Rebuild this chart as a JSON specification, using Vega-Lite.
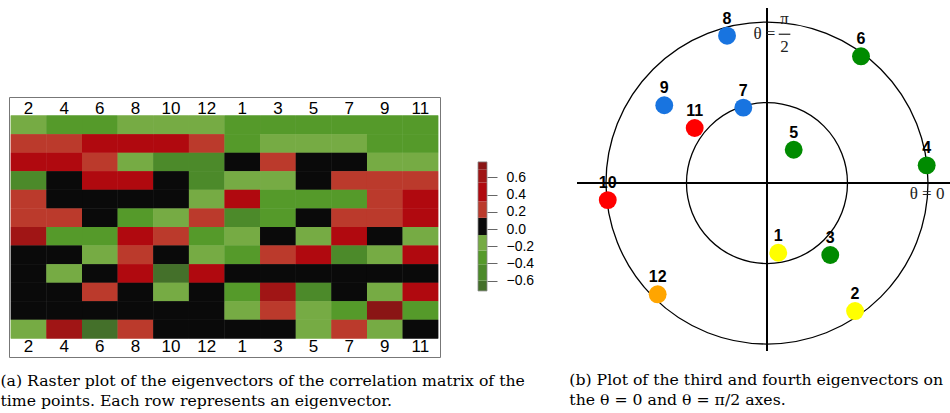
{
  "$schema": "https://vega.github.io/schema/vega-lite/v6.json",
  "padding": {"left": 0, "top": 7, "right": 0, "bottom": 0},
  "background": "white",
  "config": {
    "view": {"stroke": null},
    "font": "Liberation Sans",
    "axis": {"labelFont": "Liberation Sans", "labelColor": "black"}
  },
  "datasets": {
    "cells": [
      {"row": 1, "col": "2", "value": -0.16}, {"row": 1, "col": "4", "value": -0.33}, {"row": 1, "col": "6", "value": -0.33}, {"row": 1, "col": "8", "value": -0.16}, {"row": 1, "col": "10", "value": -0.16}, {"row": 1, "col": "12", "value": -0.16}, {"row": 1, "col": "1", "value": -0.33}, {"row": 1, "col": "3", "value": -0.33}, {"row": 1, "col": "5", "value": -0.33}, {"row": 1, "col": "7", "value": -0.33}, {"row": 1, "col": "9", "value": -0.33}, {"row": 1, "col": "11", "value": -0.33},
      {"row": 2, "col": "2", "value": 0.22}, {"row": 2, "col": "4", "value": 0.22}, {"row": 2, "col": "6", "value": 0.43}, {"row": 2, "col": "8", "value": 0.43}, {"row": 2, "col": "10", "value": 0.43}, {"row": 2, "col": "12", "value": 0.22}, {"row": 2, "col": "1", "value": -0.33}, {"row": 2, "col": "3", "value": -0.16}, {"row": 2, "col": "5", "value": -0.16}, {"row": 2, "col": "7", "value": -0.16}, {"row": 2, "col": "9", "value": -0.33}, {"row": 2, "col": "11", "value": -0.33},
      {"row": 3, "col": "2", "value": 0.43}, {"row": 3, "col": "4", "value": 0.43}, {"row": 3, "col": "6", "value": 0.22}, {"row": 3, "col": "8", "value": -0.16}, {"row": 3, "col": "10", "value": -0.5}, {"row": 3, "col": "12", "value": -0.5}, {"row": 3, "col": "1", "value": 0.03}, {"row": 3, "col": "3", "value": 0.22}, {"row": 3, "col": "5", "value": 0.03}, {"row": 3, "col": "7", "value": 0.03}, {"row": 3, "col": "9", "value": -0.16}, {"row": 3, "col": "11", "value": -0.16},
      {"row": 4, "col": "2", "value": -0.5}, {"row": 4, "col": "4", "value": 0.03}, {"row": 4, "col": "6", "value": 0.43}, {"row": 4, "col": "8", "value": 0.43}, {"row": 4, "col": "10", "value": 0.03}, {"row": 4, "col": "12", "value": -0.5}, {"row": 4, "col": "1", "value": -0.16}, {"row": 4, "col": "3", "value": -0.16}, {"row": 4, "col": "5", "value": 0.03}, {"row": 4, "col": "7", "value": 0.22}, {"row": 4, "col": "9", "value": 0.22}, {"row": 4, "col": "11", "value": 0.22},
      {"row": 5, "col": "2", "value": 0.22}, {"row": 5, "col": "4", "value": 0.03}, {"row": 5, "col": "6", "value": 0.03}, {"row": 5, "col": "8", "value": 0.03}, {"row": 5, "col": "10", "value": 0.03}, {"row": 5, "col": "12", "value": -0.16}, {"row": 5, "col": "1", "value": 0.43}, {"row": 5, "col": "3", "value": -0.33}, {"row": 5, "col": "5", "value": -0.33}, {"row": 5, "col": "7", "value": -0.33}, {"row": 5, "col": "9", "value": 0.22}, {"row": 5, "col": "11", "value": 0.43},
      {"row": 6, "col": "2", "value": 0.22}, {"row": 6, "col": "4", "value": 0.22}, {"row": 6, "col": "6", "value": 0.03}, {"row": 6, "col": "8", "value": -0.33}, {"row": 6, "col": "10", "value": -0.16}, {"row": 6, "col": "12", "value": 0.22}, {"row": 6, "col": "1", "value": -0.5}, {"row": 6, "col": "3", "value": -0.33}, {"row": 6, "col": "5", "value": 0.03}, {"row": 6, "col": "7", "value": 0.22}, {"row": 6, "col": "9", "value": 0.22}, {"row": 6, "col": "11", "value": 0.43},
      {"row": 7, "col": "2", "value": 0.6}, {"row": 7, "col": "4", "value": -0.33}, {"row": 7, "col": "6", "value": -0.33}, {"row": 7, "col": "8", "value": 0.43}, {"row": 7, "col": "10", "value": 0.22}, {"row": 7, "col": "12", "value": -0.33}, {"row": 7, "col": "1", "value": -0.16}, {"row": 7, "col": "3", "value": 0.03}, {"row": 7, "col": "5", "value": -0.16}, {"row": 7, "col": "7", "value": 0.43}, {"row": 7, "col": "9", "value": 0.03}, {"row": 7, "col": "11", "value": -0.16},
      {"row": 8, "col": "2", "value": 0.03}, {"row": 8, "col": "4", "value": 0.03}, {"row": 8, "col": "6", "value": -0.16}, {"row": 8, "col": "8", "value": 0.22}, {"row": 8, "col": "10", "value": 0.03}, {"row": 8, "col": "12", "value": -0.16}, {"row": 8, "col": "1", "value": -0.33}, {"row": 8, "col": "3", "value": 0.22}, {"row": 8, "col": "5", "value": 0.43}, {"row": 8, "col": "7", "value": -0.5}, {"row": 8, "col": "9", "value": -0.16}, {"row": 8, "col": "11", "value": 0.43},
      {"row": 9, "col": "2", "value": 0.03}, {"row": 9, "col": "4", "value": -0.16}, {"row": 9, "col": "6", "value": 0.03}, {"row": 9, "col": "8", "value": 0.43}, {"row": 9, "col": "10", "value": -0.65}, {"row": 9, "col": "12", "value": 0.43}, {"row": 9, "col": "1", "value": 0.03}, {"row": 9, "col": "3", "value": 0.03}, {"row": 9, "col": "5", "value": 0.03}, {"row": 9, "col": "7", "value": 0.03}, {"row": 9, "col": "9", "value": 0.03}, {"row": 9, "col": "11", "value": 0.03},
      {"row": 10, "col": "2", "value": 0.03}, {"row": 10, "col": "4", "value": 0.03}, {"row": 10, "col": "6", "value": 0.22}, {"row": 10, "col": "8", "value": 0.03}, {"row": 10, "col": "10", "value": -0.16}, {"row": 10, "col": "12", "value": 0.03}, {"row": 10, "col": "1", "value": -0.33}, {"row": 10, "col": "3", "value": 0.6}, {"row": 10, "col": "5", "value": -0.5}, {"row": 10, "col": "7", "value": 0.03}, {"row": 10, "col": "9", "value": -0.16}, {"row": 10, "col": "11", "value": 0.43},
      {"row": 11, "col": "2", "value": 0.03}, {"row": 11, "col": "4", "value": 0.03}, {"row": 11, "col": "6", "value": 0.03}, {"row": 11, "col": "8", "value": 0.03}, {"row": 11, "col": "10", "value": 0.03}, {"row": 11, "col": "12", "value": 0.03}, {"row": 11, "col": "1", "value": -0.16}, {"row": 11, "col": "3", "value": 0.22}, {"row": 11, "col": "5", "value": -0.16}, {"row": 11, "col": "7", "value": -0.33}, {"row": 11, "col": "9", "value": 0.72}, {"row": 11, "col": "11", "value": -0.33},
      {"row": 12, "col": "2", "value": -0.16}, {"row": 12, "col": "4", "value": 0.6}, {"row": 12, "col": "6", "value": -0.65}, {"row": 12, "col": "8", "value": 0.22}, {"row": 12, "col": "10", "value": 0.03}, {"row": 12, "col": "12", "value": 0.03}, {"row": 12, "col": "1", "value": 0.03}, {"row": 12, "col": "3", "value": 0.03}, {"row": 12, "col": "5", "value": -0.16}, {"row": 12, "col": "7", "value": 0.22}, {"row": 12, "col": "9", "value": -0.16}, {"row": 12, "col": "11", "value": 0.03}
    ],
    "legendBins": [
      {"lo": -0.72, "hi": -0.6}, {"lo": -0.6, "hi": -0.41}, {"lo": -0.41, "hi": -0.25},
      {"lo": -0.25, "hi": -0.07}, {"lo": -0.07, "hi": 0.13}, {"lo": 0.13, "hi": 0.32},
      {"lo": 0.32, "hi": 0.54}, {"lo": 0.54, "hi": 0.69}, {"lo": 0.69, "hi": 0.78}
    ],
    "points": [
      {"label": "1", "x": 0.07, "y": -0.433, "cluster": "A"},
      {"label": "2", "x": 0.547, "y": -0.795, "cluster": "A"},
      {"label": "3", "x": 0.393, "y": -0.447, "cluster": "B"},
      {"label": "4", "x": 0.992, "y": 0.11, "cluster": "B"},
      {"label": "5", "x": 0.166, "y": 0.207, "cluster": "B"},
      {"label": "6", "x": 0.584, "y": 0.787, "cluster": "B"},
      {"label": "7", "x": -0.147, "y": 0.468, "cluster": "C"},
      {"label": "8", "x": -0.248, "y": 0.915, "cluster": "C"},
      {"label": "9", "x": -0.638, "y": 0.483, "cluster": "C"},
      {"label": "10", "x": -0.989, "y": -0.106, "cluster": "D"},
      {"label": "11", "x": -0.449, "y": 0.342, "cluster": "D"},
      {"label": "12", "x": -0.679, "y": -0.691, "cluster": "E"}
    ],
    "rings": [{"ring": "outer", "r": 1}, {"ring": "inner", "r": 0.5}],
    "thetaText": [
      {"t": "θ =", "x": -0.016, "y": 0.924},
      {"t": "π", "x": 0.109, "y": 1.016},
      {"t": "2", "x": 0.109, "y": 0.847},
      {"t": "θ = 0", "x": 0.994, "y": -0.068}
    ],
    "fracBar": [{"x": 0.073, "x2": 0.145, "y": 0.924}],
    "empty": []
  },
  "spacing": 35,
  "hconcat": [
    {
      "title": {
        "text": ["(a) Raster plot of the eigenvectors of the correlation matrix of the", "time points. Each row represents an eigenvector."],
        "orient": "bottom", "anchor": "start", "dx": -8, "offset": 16,
        "font": "DejaVu Serif", "fontSize": 15.7, "fontWeight": "normal",
        "lineHeight": 20.6, "color": "black"
      },
      "spacing": 0,
      "vconcat": [
        {
          "width": 431,
          "height": 88,
          "data": {"name": "empty"},
          "mark": "point"
        },
        {
          "spacing": 36,
          "hconcat": [
            {
              "width": 431,
              "height": 260,
              "view": {"stroke": "#777", "strokeWidth": 1},
              "data": {"name": "cells"},
              "layer": [
                {
                  "mark": {"type": "rect", "strokeWidth": 0},
                  "encoding": {
                    "x": {
                      "field": "col", "type": "ordinal",
                      "sort": ["2", "4", "6", "8", "10", "12", "1", "3", "5", "7", "9", "11"],
                      "scale": {"paddingInner": 0, "paddingOuter": 0.05},
                      "axis": {"orient": "bottom", "offset": -22, "domain": false, "ticks": false, "tickSize": 0, "labelPadding": 11, "labelAngle": 0, "labelFontSize": 17, "labelBaseline": "middle", "title": null}
                    },
                    "y": {"field": "row", "type": "ordinal", "scale": {"paddingInner": 0, "paddingOuter": 1.222}, "axis": null},
                    "color": {
                      "field": "value", "type": "quantitative",
                      "scale": {"type": "threshold", "domain": [-0.6, -0.41, -0.25, -0.07, 0.13, 0.32, 0.54, 0.69], "range": ["#44702a", "#4c8a2a", "#559a2a", "#76ab44", "#0a0a0a", "#bb3a2c", "#b0090f", "#a01515", "#8a1515"]},
                      "legend": null
                    }
                  }
                },
                {
                  "mark": {"type": "rect", "strokeWidth": 0},
                  "encoding": {
                    "x": {
                      "field": "col", "type": "ordinal",
                      "sort": ["2", "4", "6", "8", "10", "12", "1", "3", "5", "7", "9", "11"],
                      "scale": {"paddingInner": 0, "paddingOuter": 0.05},
                      "axis": {"orient": "top", "offset": -22, "domain": false, "ticks": false, "tickSize": 0, "labelPadding": 11, "labelAngle": 0, "labelFontSize": 17, "labelBaseline": "middle", "title": null}
                    },
                    "y": {"field": "row", "type": "ordinal", "scale": {"paddingInner": 0, "paddingOuter": 1.222}, "axis": null},
                    "color": {
                      "field": "value", "type": "quantitative",
                      "scale": {"type": "threshold", "domain": [-0.6, -0.41, -0.25, -0.07, 0.13, 0.32, 0.54, 0.69], "range": ["#44702a", "#4c8a2a", "#559a2a", "#76ab44", "#0a0a0a", "#bb3a2c", "#b0090f", "#a01515", "#8a1515"]},
                      "legend": null
                    }
                  }
                }
              ],
              "resolve": {"axis": {"x": "independent"}}
            },
            {
              "width": 9,
              "height": 260,
              "data": {"name": "legendBins"},
              "layer": [
                {
                  "mark": {"type": "rect", "strokeWidth": 0},
                  "encoding": {
                    "y": {
                      "field": "lo", "type": "quantitative",
                      "scale": {"domain": [-1.488, 1.535], "nice": false, "zero": false},
                      "axis": {"orient": "right", "values": [-0.6, -0.4, -0.2, 0, 0.2, 0.4, 0.6], "format": ".1f", "domain": false, "grid": false, "tickSize": 10, "tickColor": "#666", "tickWidth": 1, "labelPadding": 9, "labelFontSize": 14, "labelBaseline": "middle", "title": null}
                    },
                    "y2": {"field": "hi"},
                    "color": {
                      "field": "lo", "type": "quantitative",
                      "scale": {"type": "threshold", "domain": [-0.6, -0.41, -0.25, -0.07, 0.13, 0.32, 0.54, 0.69], "range": ["#44702a", "#4c8a2a", "#559a2a", "#76ab44", "#0a0a0a", "#bb3a2c", "#b0090f", "#a01515", "#8a1515"]},
                      "legend": null
                    }
                  }
                },
                {
                  "mark": {"type": "rect", "fill": null, "stroke": "#888", "strokeWidth": 0.8},
                  "encoding": {
                    "y": {"aggregate": "min", "field": "lo", "type": "quantitative"},
                    "y2": {"aggregate": "max", "field": "hi"}
                  }
                }
              ]
            }
          ]
        }
      ]
    },
    {
      "title": {
        "text": ["(b) Plot of the third and fourth eigenvectors on", "the θ = 0 and θ = π/2 axes."],
        "orient": "bottom", "anchor": "start", "dx": -7, "offset": 21,
        "font": "DejaVu Serif", "fontSize": 15.7, "fontWeight": "normal",
        "lineHeight": 20.6, "color": "black"
      },
      "width": 374,
      "height": 343,
      "layer": [
        {
          "data": {"name": "points"},
          "mark": {"type": "rule", "color": "black", "strokeWidth": 1.3},
          "encoding": {"y": {"datum": 0, "type": "quantitative", "scale": {"domain": [-1.043, 1.087], "nice": false, "zero": false}, "axis": null}}
        },
        {
          "data": {"name": "points"},
          "mark": {"type": "rule", "color": "black", "strokeWidth": 1.3},
          "encoding": {"x": {"datum": 0, "type": "quantitative", "scale": {"domain": [-1.18, 1.143], "nice": false, "zero": false}, "axis": null}}
        },
        {
          "data": {"name": "rings"},
          "mark": {"type": "point", "shape": "circle", "filled": false, "stroke": "black", "strokeWidth": 1.3, "opacity": 1},
          "encoding": {
            "x": {"datum": 0, "type": "quantitative"},
            "y": {"datum": 0, "type": "quantitative"},
            "size": {"field": "r", "type": "quantitative", "scale": {"type": "pow", "exponent": 2, "domain": [0, 1], "range": [0, 103684]}, "legend": null}
          }
        },
        {
          "data": {"name": "fracBar"},
          "mark": {"type": "rule", "color": "#222", "strokeWidth": 1.2},
          "encoding": {
            "x": {"field": "x", "type": "quantitative"},
            "x2": {"field": "x2"},
            "y": {"field": "y", "type": "quantitative"}
          }
        },
        {
          "data": {"name": "thetaText"},
          "mark": {"type": "text", "font": "Liberation Serif", "fontSize": 17, "color": "#222", "baseline": "middle", "align": "center"},
          "encoding": {
            "x": {"field": "x", "type": "quantitative"},
            "y": {"field": "y", "type": "quantitative"},
            "text": {"field": "t"}
          }
        },
        {
          "data": {"name": "points"},
          "mark": {"type": "circle", "size": 320, "opacity": 1},
          "encoding": {
            "x": {"field": "x", "type": "quantitative"},
            "y": {"field": "y", "type": "quantitative"},
            "color": {"field": "cluster", "type": "nominal", "scale": {"domain": ["A", "B", "C", "D", "E"], "range": ["#ffff00", "#008b00", "#1874e0", "#ff0000", "#ffa500"]}, "legend": null}
          }
        },
        {
          "data": {"name": "points"},
          "mark": {"type": "text", "fontWeight": "bold", "fontSize": 16, "dy": -17, "baseline": "middle", "color": "black"},
          "encoding": {
            "x": {"field": "x", "type": "quantitative"},
            "y": {"field": "y", "type": "quantitative"},
            "text": {"field": "label"}
          }
        }
      ]
    }
  ]
}
